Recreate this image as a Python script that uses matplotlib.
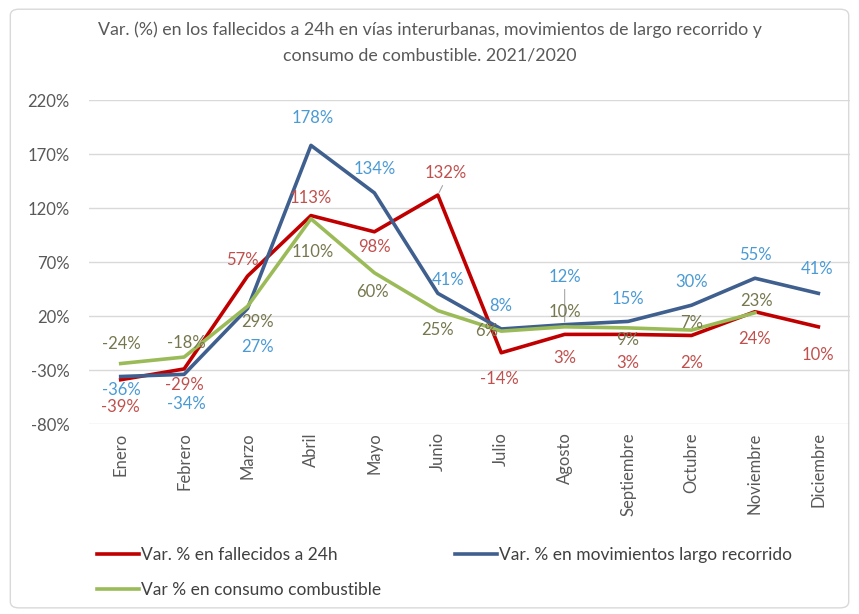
import numpy as np
import matplotlib
matplotlib.use("Agg")
import matplotlib.pyplot as plt
from matplotlib.patches import FancyBboxPatch

plt.rcParams['font.family'] = ['Lato', 'DejaVu Sans']

meses = ["Enero", "Febrero", "Marzo", "Abril", "Mayo", "Junio", "Julio",
         "Agosto", "Septiembre", "Octubre", "Noviembre", "Diciembre"]

fallecidos = [-39, -29, 57, 113, 98, 132, -14, 3, 3, 2, 24, 10]
movimientos = [-36, -34, 27, 178, 134, 41, 8, 12, 15, 30, 55, 41]
combustible = [-24, -18, 29, 110, 60, 25, 6, 10, 9, 7, 23, np.nan]

yticks = [-80, -30, 20, 70, 120, 170, 220]

# label offsets in pixels (dx, dy), one per point
off_fall = [(0, -27), (0, -16), (-5, 16), (0, 18), (0, -15), (8, 22),
            (-2, -26), (0, -24), (0, -29), (0, -28), (0, -27), (0, -28)]
off_mov = [(1, -13), (2, -30), (10, -39), (2, 27), (0, 24), (10, 13),
           (0, 23), (0, 48), (0, 22), (0, 23), (0, 23), (-1, 24)]
off_comb = [(1, 20), (2, 14), (10, -16), (2, -33), (-2, -19), (0, -19),
            (-15, 0), (0, 15), (0, -12), (0, 7), (2, 12), (0, 0)]

c_red = "#C00000"
c_blue = "#3F5F8F"
c_green = "#9BBB59"
lab_red = "#C0504D"
lab_blue = "#4A9AD4"
lab_green = "#77774F"

fig = plt.figure(figsize=(8.59, 6.14), dpi=100)
fig.patches.append(FancyBboxPatch((0.012, 0.01), 0.976, 0.975,
                                  boxstyle="round,pad=0,rounding_size=0.01",
                                  transform=fig.transFigure, fill=False,
                                  edgecolor="#D9D9D9", linewidth=1))
ax = fig.add_axes([0.1036, 0.3094, 0.886, 0.5277])

x = np.arange(len(meses))
l1, = ax.plot(x, fallecidos, color=c_red, lw=2.6, label="Var. % en fallecidos a 24h", zorder=3)
l2, = ax.plot(x, movimientos, color=c_blue, lw=2.6, label="Var. % en movimientos largo recorrido", zorder=3)
l3, = ax.plot(x, combustible, color=c_green, lw=2.6, label="Var % en consumo combustible", zorder=3)

for vals, offs, col in [(fallecidos, off_fall, lab_red),
                        (movimientos, off_mov, lab_blue),
                        (combustible, off_comb, lab_green)]:
    for i, (v, o) in enumerate(zip(vals, offs)):
        if np.isnan(v):
            continue
        ax.annotate(f"{v:.0f}%", (i, v), xytext=o, textcoords="offset pixels",
                    ha="center", va="center", fontsize=12, color=col, zorder=4)

# leader lines
ax.annotate("", (7, 12), xytext=(0, 38), textcoords="offset pixels",
            arrowprops=dict(arrowstyle="-", color="#A6A6A6", lw=0.8))
ax.annotate("", (5, 132), xytext=(6, 12), textcoords="offset pixels",
            arrowprops=dict(arrowstyle="-", color="#A6A6A6", lw=0.8))

ax.set_xlim(-0.5, len(meses) - 0.5)
ax.set_ylim(-80, 220)
ax.set_yticks(yticks)
ax.set_yticklabels([f"{t}%" for t in yticks])
ax.set_xticks(x)
ax.set_xticklabels(meses, rotation=90)
ax.tick_params(axis="both", length=0, colors="#595959", labelsize=12)
ax.tick_params(axis="y", pad=14)
ax.tick_params(axis="x", pad=6)
ax.grid(axis="y", color="#D9D9D9", lw=1)
ax.set_axisbelow(True)
for s in ax.spines.values():
    s.set_visible(False)

fig.text(0.5, 0.951, "Var. (%) en los fallecidos a 24h en vías interurbanas, movimientos de largo recorrido y",
         ha="center", va="center", fontsize=12.8, color="#595959")
fig.text(0.5, 0.91, "consumo de combustible. 2021/2020",
         ha="center", va="center", fontsize=12.8, color="#595959")

fig.legend([l1, l3, l2], [l1.get_label(), l3.get_label(), l2.get_label()],
           loc="upper left", bbox_to_anchor=(0.105, 0.12), ncol=2, frameon=False,
           fontsize=12.5, handlelength=2.4, handletextpad=0.1, columnspacing=4.3,
           labelspacing=1.1, labelcolor="#404040", borderaxespad=0)

fig.savefig("out.png", dpi=100)
